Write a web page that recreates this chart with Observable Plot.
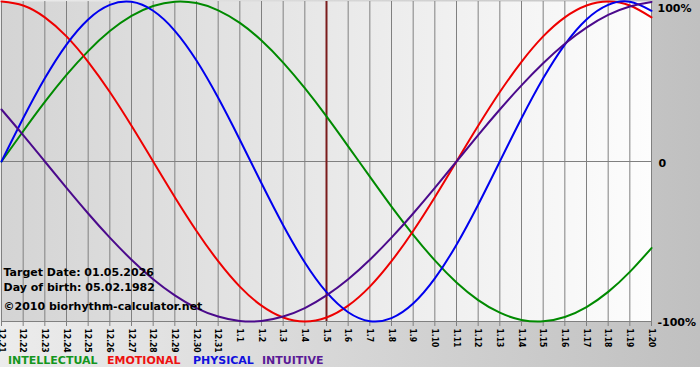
<!DOCTYPE html>
<html><head><meta charset="utf-8">
<script src="https://cdn.jsdelivr.net/npm/d3@7"></script>
<script src="https://cdn.jsdelivr.net/npm/@observablehq/plot@0.6"></script>
<style>
body{margin:0;background:#fff;}
#wrap{position:relative;width:700px;height:367px;background:linear-gradient(to right,#ececec,#c0c0c0);font-family:"DejaVu Sans",Verdana,sans-serif;overflow:hidden;}
#chart svg{display:block;}
#legend{position:absolute;left:0;top:354px;height:13px;width:700px;font-weight:bold;font-size:11px;line-height:13px;}
#legend span{position:absolute;top:0;white-space:nowrap;}
</style></head><body>
<div id="wrap"><div id="chart"></div><div id="legend"></div></div>
<script>
const dayLabels = ["12.21","12.22","12.23","12.24","12.25","12.26","12.27","12.28","12.29","12.30","12.31",
  "1.1","1.2","1.3","1.4","1.5","1.6","1.7","1.8","1.9","1.10","1.11","1.12","1.13","1.14","1.15","1.16","1.17","1.18","1.19","1.20"];
const intellectual = [0,18.9,37.2,54.1,69.0,81.5,91.0,97.2,99.9,99.0,94.5,86.6,75.6,61.8,45.8,28.2,9.5,-9.5,-28.2,-45.8,-61.8,-75.6,-86.6,-94.5,-99.0,-99.9,-97.2,-91.0,-81.5,-69.0,-54.1];
const emotional = [100,97.5,90.1,78.2,62.3,43.4,22.3,0,-22.3,-43.4,-62.3,-78.2,-90.1,-97.5,-100,-97.5,-90.1,-78.2,-62.3,-43.4,-22.3,0,22.3,43.4,62.3,78.2,90.1,97.5,100,97.5,90.1];
const physical = [0,27.0,52.0,73.1,88.8,97.9,99.8,94.2,81.7,63.1,39.8,13.6,-13.6,-39.8,-63.1,-81.7,-94.2,-99.8,-97.9,-88.8,-73.1,-52.0,-27.0,0,27.0,52.0,73.1,88.8,97.9,99.8,94.2];
const intuitive = [32.5,16.5,0,-16.5,-32.5,-47.6,-61.4,-73.6,-83.7,-91.6,-96.9,-99.7,-99.7,-96.9,-91.6,-83.7,-73.6,-61.4,-47.6,-32.5,-16.5,0,16.5,32.5,47.6,61.4,73.6,83.7,91.6,96.9,99.7];
const seriesNames = ["INTELLECTUAL","EMOTIONAL","PHYSICAL","INTUITIVE"];
const lineColors = ["#008a00","#ee0000","#0000ee","#4b0a8c"];
const legendColors = ["#14961e","#ee1111","#1010dd","#5a1a96"];
const targetLabel = "1.5";
const targetText = "Target Date: 01.05.2026";
const birthText = "Day of birth: 05.02.1982";
const creditText = "©2010 biorhythm-calculator.net";
const yTickLabels = [{v:100,t:"100%"},{v:0,t:"0"},{v:-100,t:"-100%"}];

const seriesValues = [intellectual, emotional, physical, intuitive];
const rows = [];
seriesNames.forEach((s, k) => seriesValues[k].forEach((v, i) => rows.push({i, series: s, value: v})));
const idx = dayLabels.map((_, i) => i);
const targetIndex = dayLabels.indexOf(targetLabel);
const font = "'DejaVu Sans', Verdana, sans-serif";

const svg = Plot.plot({
  width: 700, height: 352,
  marginLeft: 1, marginRight: 49, marginTop: 1, marginBottom: 31,
  x: {type: "linear", domain: [0, dayLabels.length - 1], axis: null},
  y: {domain: [-100, 100], axis: null},
  color: {domain: seriesNames, range: lineColors},
  style: {background: "transparent", fontFamily: font, overflow: "visible"},
  marks: [
    Plot.frame({fill: "url(#plotbg)", stroke: null}),
    Plot.ruleX(idx, {x: d => d, stroke: "#808080", strokeWidth: 1}),
    Plot.ruleY([0, -100], {stroke: "#808080", strokeWidth: 1}),
    Plot.axisX({ticks: idx, tickFormat: i => dayLabels[i], tickRotate: 90, tickSize: 5, tickPadding: 2, label: null,
      stroke: "#808080", fill: "#000", fontSize: 8.5, fontFamily: "'DejaVu Sans Condensed', 'DejaVu Sans', sans-serif", fontWeight: "bold"}),
    Plot.ruleX([targetIndex], {stroke: "#7b1c1c", strokeWidth: 2}),
    Plot.line(rows, {x: "i", y: "value", z: "series", stroke: "series", curve: "natural", strokeWidth: 2}),
    Plot.text([yTickLabels[0]], {y: "v", text: "t", frameAnchor: "right", dx: 6, dy: 7, textAnchor: "start", fontSize: 11, fontWeight: "bold", fill: "#000"}),
    Plot.text([yTickLabels[1]], {y: "v", text: "t", frameAnchor: "right", dx: 7, dy: 2, textAnchor: "start", fontSize: 11, fontWeight: "bold", fill: "#000"}),
    Plot.text([yTickLabels[2]], {y: "v", text: "t", frameAnchor: "right", dx: 6, dy: 1, textAnchor: "start", fontSize: 11, fontWeight: "bold", fill: "#000"}),
    Plot.text([targetText], {text: d => d, frameAnchor: "bottom-left", dx: 2, dy: -49.5, textAnchor: "start", lineAnchor: "middle", fontSize: 11, fontWeight: "bold", fill: "#000"}),
    Plot.text([birthText], {text: d => d, frameAnchor: "bottom-left", dx: 2, dy: -34, textAnchor: "start", lineAnchor: "middle", fontSize: 11, fontWeight: "bold", fill: "#000"}),
    Plot.text([creditText], {text: d => d, frameAnchor: "bottom-left", dx: 2, dy: -15, textAnchor: "start", lineAnchor: "middle", fontSize: 11, fontWeight: "bold", fill: "#000"})
  ]
});
const ns = "http://www.w3.org/2000/svg";
const defs = document.createElementNS(ns, "defs");
defs.innerHTML = '<linearGradient id="plotbg" x1="0" x2="1" y1="0" y2="0"><stop offset="0" stop-color="#d4d4d4"/><stop offset="1" stop-color="#fdfdfd"/></linearGradient>';
svg.insertBefore(defs, svg.firstChild);
document.getElementById("chart").appendChild(svg);

const legendLeft = [8, 107, 193, 262];
const legend = document.getElementById("legend");
seriesNames.forEach((s, k) => {
  const sp = document.createElement("span");
  sp.textContent = s;
  sp.style.color = legendColors[k];
  sp.style.left = legendLeft[k] + "px";
  legend.appendChild(sp);
});
</script>
</body></html>
